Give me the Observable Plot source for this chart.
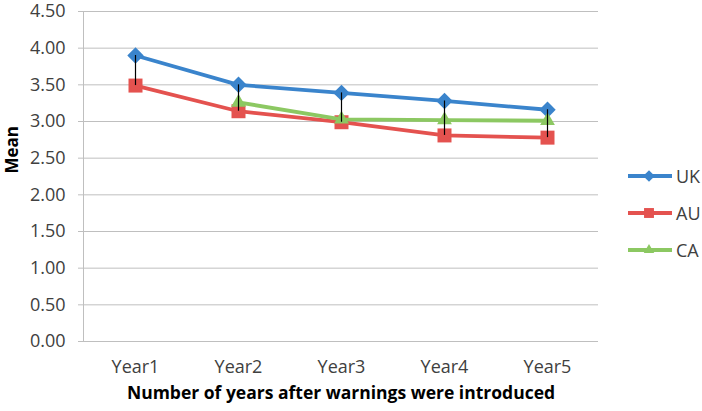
<!DOCTYPE html>
<html><head><meta charset="utf-8">
<script src="https://cdn.jsdelivr.net/npm/d3@7"></script>
<script src="https://cdn.jsdelivr.net/npm/@observablehq/plot@0.6"></script>
<style>
body{margin:0;background:#fff;}
#wrap{position:relative;width:702px;height:411px;font-family:"Open Sans",sans-serif;}
#legend{position:absolute;left:628px;top:157px;}
.item{display:flex;align-items:center;height:37px;font-size:18px;color:#404040;}
.item svg{margin-right:4px;}
</style></head><body><div id="wrap"><div id="legend"></div></div>
<script>
const years = ["Year1","Year2","Year3","Year4","Year5"];
const seriesNames = ["UK","AU","CA"];
const ukValues = [3.90,3.50,3.39,3.28,3.16];
const auValues = [3.49,3.14,2.99,2.81,2.78];
const caValues = [null,3.26,3.03,3.02,3.01];
const colors = ["#3a84cc","#e4524f","#8cc862"];
const symbols = ["diamond2","square","triangle"];
const sizes = [7.4,7.9,5.5];

const valuesBySeries = [ukValues, auValues, caValues];
const rows = [];
seriesNames.forEach((s,i)=>years.forEach((y,j)=>{
  rows.push({year:y, series:s, value:valuesBySeries[i][j]});
}));
const hiLo = years.map((y,j)=>{
  const v = valuesBySeries.map(a=>a[j]).filter(d=>d!=null);
  return {year:y, hi:d3.max(v), lo:d3.min(v)};
});

const marks = [
  Plot.gridY({stroke:"#bfbfbf", strokeOpacity:1}),
  (index, scales, values, dims) => {
    const l = d3.create("svg:line")
      .attr("x1", dims.marginLeft+0.5).attr("x2", dims.marginLeft+0.5)
      .attr("y1", dims.marginTop).attr("y2", dims.height-dims.marginBottom)
      .attr("stroke","#bfbfbf");
    return l.node();
  },
  Plot.axisY({tickSize:5, tickPadding:13, stroke:"#bfbfbf", fill:"#404040", label:null, tickFormat:d=>d.toFixed(2), fontSize:18}),
  Plot.axisX({tickSize:0, tickPadding:19, fill:"#404040", label:null, fontSize:18}),
  Plot.ruleY([0], {stroke:"#bfbfbf"}),
  Plot.text(["Mean"], {frameAnchor:"left", rotate:-90, dx:-70.5, dy:-3, fontWeight:"bold", fontSize:17, fill:"#000"}),
  Plot.text(["Number of years after warnings were introduced"], {frameAnchor:"bottom", dy:52, lineAnchor:"middle", fontWeight:"bold", fontSize:17.5, fill:"#000"})
];
seriesNames.forEach((s,i)=>{
  const d = rows.filter(r=>r.series===s && r.value!=null);
  marks.push(Plot.line(d, {x:"year", y:"value", stroke:colors[i], strokeWidth:3.8, strokeLinejoin:"round"}));
  marks.push(Plot.dot(d, {x:"year", y:"value", symbol:()=>symbols[i], r:sizes[i], fill:colors[i], stroke:"none"}));
});
marks.push(Plot.ruleX(hiLo, {x:"year", y1:"hi", y2:"lo", stroke:"#000", strokeWidth:1.2}));

const chart = Plot.plot({
  width:702, height:411,
  marginLeft:83, marginRight:104, marginTop:11, marginBottom:70,
  style:{fontFamily:"Open Sans, sans-serif", fontSize:"18px", background:"white", color:"#404040"},
  x:{type:"point", domain:years, padding:0.5, axis:null},
  y:{domain:[0,4.5], ticks:d3.range(0,4.51,0.5), axis:null},
  symbol:{type:"identity"},
  marks
});
document.getElementById("wrap").prepend(chart);

const leg = document.getElementById("legend");
seriesNames.forEach((s,i)=>{
  const item = document.createElement("div");
  item.className = "item";
  const sym = d3.symbol(
    {diamond2:d3.symbolDiamond2, square:d3.symbolSquare, triangle:d3.symbolTriangle}[symbols[i]],
    Math.PI*sizes[i]*sizes[i]*0.5)();
  item.innerHTML = `<svg width="44" height="18"><line x1="0" x2="44" y1="9" y2="9" stroke="${colors[i]}" stroke-width="3.8"/><path transform="translate(21,9)" d="${sym}" fill="${colors[i]}"/></svg><span>${s}</span>`;
  leg.appendChild(item);
});
</script>
</body></html>
